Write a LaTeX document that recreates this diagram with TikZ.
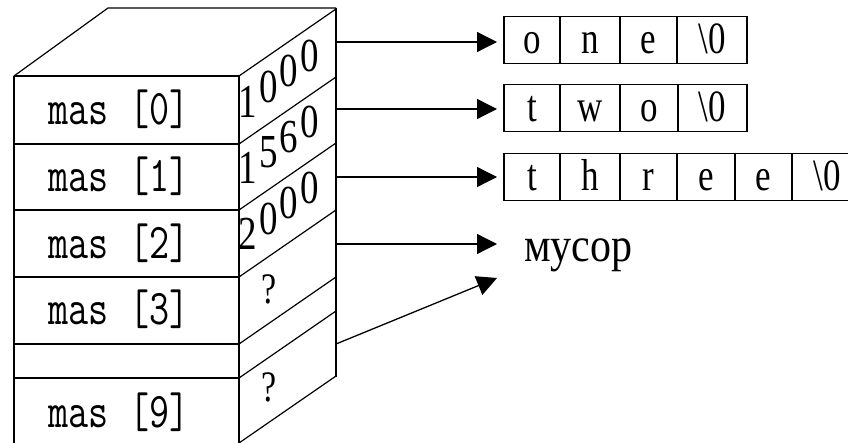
\documentclass[tikz,border=0pt]{standalone}
\usepackage{fontspec}
\setmainfont{Liberation Serif}
\usetikzlibrary{arrows.meta, positioning}
\newcommand{\tall}[1]{\scalebox{1}[1.28]{#1}}

\begin{document}
\begin{tikzpicture}[x=1pt,y=1pt]
\tikzstyle{every node}+=[inner sep=0pt, outer sep=0pt]
\tikzstyle{cell}=[draw, line width=1.2pt, minimum height=47pt, text height=37pt, text depth=10pt, font=\fontsize{35}{35}\selectfont]
\tikzstyle{cellname}=[anchor=base, font=\ttfamily\fontsize{39}{39}\selectfont]
\tikzstyle{addr}=[font=\fontsize{37}{37}\selectfont]
\tikzstyle{ptr}=[line width=1.3pt, -{Triangle[length=20pt,width=20pt]}]
\useasboundingbox (0,0) rectangle (848,-443);
\clip (0,0) rectangle (848,-443);
\draw [black, line width=1.2pt] (14,-76) -- (108,-8) -- (336,-8);
\draw [black, line width=1.2pt] (14,-76) -- (14,-450);
\draw [black, line width=1.2pt] (239,-76) -- (239,-450);
\draw [black, line width=1.6pt] (336,-8) -- (336,-377);
\foreach \y in {76,144,210,277,344,378}
  \draw [black, line width=1.2pt] (14,-\y) -- (239,-\y);
\foreach \y in {76,144,210,277,344,378,443}
  \draw [black, line width=1.2pt] (239,-\y) -- ++(97,67);
\node [cellname] (m0) at (119,-125) {\tall{mas [0]}};
\node [cellname] (m1) at (119,-192) {\tall{mas [1]}};
\node [cellname] (m2) at (119,-259) {\tall{mas [2]}};
\node [cellname] (m3) at (119,-325) {\tall{mas [3]}};
\node [cellname] (m9) at (119,-427) {\tall{mas [9]}};
\foreach \ds/\y/\k in {{1,0,0,0}/102/a, {1,5,6,0}/168/b, {2,0,0,0}/234/c}
  \foreach \d [count=\i from 0] in \ds
    \node [addr] (\k\i) at (248+20.5*\i,-\y+15.3*\i) {\tall{\d}};
\node [addr, font=\fontsize{34}{34}\selectfont] (q3) at (269,-289) {\tall{?}};
\node [addr, font=\fontsize{34}{34}\selectfont] (q9) at (269,-387) {\tall{?}};
\node [cell, minimum width=56pt, anchor=west] (o1) at (504,-40) {\tall{o}};
\node [cell, minimum width=60pt, right=0pt of o1] (o2) {\tall{n}};
\node [cell, minimum width=57pt, right=0pt of o2] (o3) {\tall{e}};
\node [cell, minimum width=70pt, right=0pt of o3] (o4) {\tall{\textbackslash0}};
\node [cell, minimum width=56pt, anchor=west] (w1) at (504,-108) {\tall{t}};
\node [cell, minimum width=60pt, right=0pt of w1] (w2) {\tall{w}};
\node [cell, minimum width=58pt, right=0pt of w2] (w3) {\tall{o}};
\node [cell, minimum width=69pt, right=0pt of w3] (w4) {\tall{\textbackslash0}};
\node [cell, minimum width=56pt, anchor=west] (h1) at (504,-177) {\tall{t}};
\node [cell, minimum width=60pt, right=0pt of h1] (h2) {\tall{h}};
\node [cell, minimum width=57pt, right=0pt of h2] (h3) {\tall{r}};
\node [cell, minimum width=58pt, right=0pt of h3] (h4) {\tall{e}};
\node [cell, minimum width=57pt, right=0pt of h4] (h5) {\tall{e}};
\node [cell, minimum width=70pt, right=0pt of h5] (h6) {\tall{\textbackslash0}};
\node [anchor=base west, font=\fontsize{42}{42}\selectfont] (musor) at (524,-262) {\scalebox{1}[1.15]{мусор}};
\coordinate (p0) at (336,-42);
\coordinate (p1) at (336,-109);
\coordinate (p2) at (336,-177);
\coordinate (p3) at (336,-244);
\coordinate (p9) at (336,-344);
\coordinate (g3) at (497,-244);
\coordinate (g9) at (497,-278);
\draw [ptr, shorten >=7pt] (p0) -- (p0 -| o1.west);
\draw [ptr, shorten >=7pt] (p1) -- (p1 -| w1.west);
\draw [ptr, shorten >=7pt] (p2) -- (p2 -| h1.west);
\draw [ptr] (p3) -- (g3);
\draw [ptr] (p9) -- (g9);
\end{tikzpicture}
\end{document}
